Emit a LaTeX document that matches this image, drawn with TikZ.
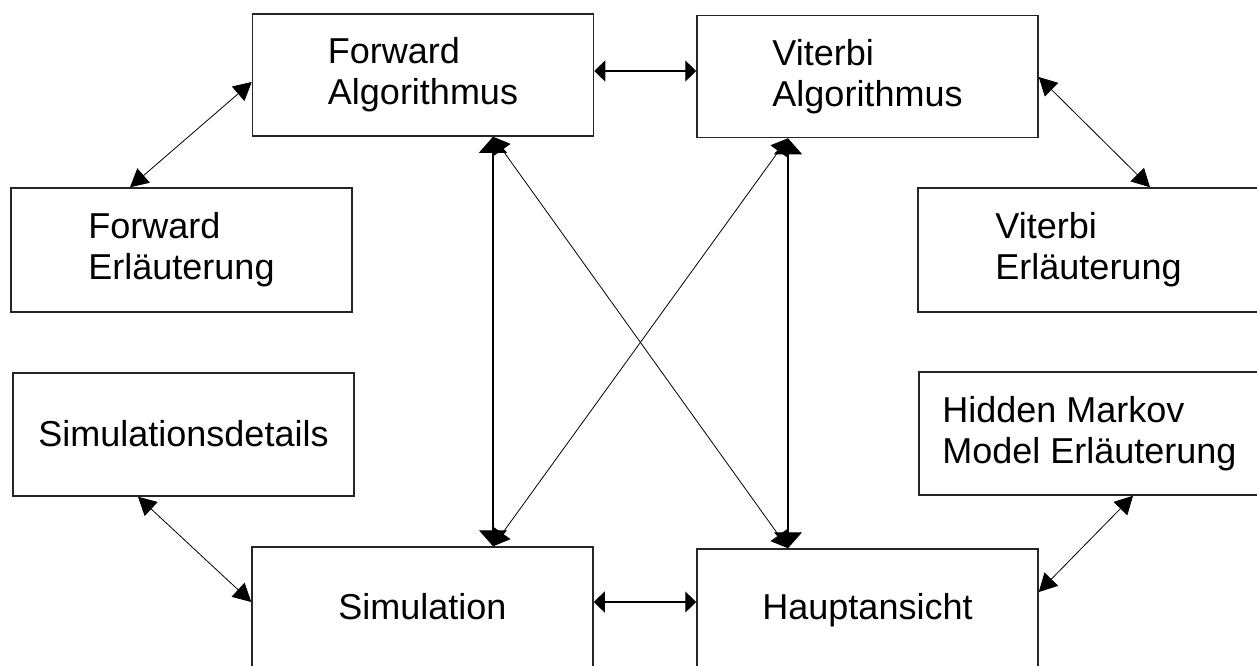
\documentclass[tikz,border=0pt]{standalone}
\usepackage{fontspec}
\setmainfont{Liberation Sans}
\usetikzlibrary{arrows.meta}
\tikzset{
  box/.style={draw=black!85, line width=1.5pt, fill=white, minimum width=341pt, minimum height=122pt,
    inner sep=0pt, align=left, font=\fontsize{36}{41}\selectfont},
  conn/.style={line width=1.1pt, {Triangle[length=16pt,width=28pt]}-{Triangle[length=16pt,width=28pt]}},
  hconn/.style={line width=1.1pt, {Triangle[length=11pt,width=21pt]}-{Triangle[length=11pt,width=21pt]}},
  diag/.style={line width=0.8pt, {Triangle[length=16pt,width=20pt]}-{Triangle[length=16pt,width=20pt]}},
  side/.style={line width=0.8pt, {Triangle[length=18pt,width=19pt]}-{Triangle[length=18pt,width=19pt]}}
}
\begin{document}
\begin{tikzpicture}[x=1pt,y=-1pt]
\useasboundingbox (0,0) rectangle (1257,665);
\begin{scope}
\clip (0,0) rectangle (1257,665);
\node[box] (FA) at (423,75) {Forward\\Algorithmus};
\node[box] (VA) at (867.5,76.5) {Viterbi\\Algorithmus};
\node[box, minimum height=124pt] (FE) at (181.5,250) {Forward\\Erläuterung};
\node[box, minimum height=124pt] (VE) at (1088.5,250) {Viterbi\\Erläuterung};
\node[box, minimum height=123pt] (SD) at (183.5,434.5) {\raisebox{3pt}{Simulationsdetails}};
\node[box, minimum height=123pt] (HM) at (1089.5,433.5) {Hidden Markov\\Model Erläuterung};
\node[box] (SI) at (422.5,608) {\raisebox{3pt}{Simulation}};
\node[box] (HA) at (867.5,610) {\raisebox{-2pt}{Hauptansicht}};

\coordinate (xL) at (493,0);
\coordinate (xR) at (788,0);

\draw[hconn] (FA.east |- 0,71) -- (VA.west |- 0,71);
\draw[hconn] (SI.east |- 0,602) -- (HA.west |- 0,602);
\draw[conn] (FA.south -| xL) -- (SI.north -| xL);
\draw[conn] (VA.south -| xR) -- (HA.north -| xR);
\draw[diag] (FA.south -| xL) -- (HA.north -| xR);
\draw[diag] (VA.south -| xR) -- (SI.north -| xL);
\draw[side] (FA.west |- 0,82) -- (FE.north -| 130,0);
\draw[side] (VA.east |- 0,77) -- (VE.north -| 1150,0);
\draw[side] (SD.south -| 138,0) -- (SI.west |- 0,602);
\draw[side] (HM.south -| 1133,0) -- (HA.east |- 0,592);
\end{scope}
\end{tikzpicture}
\end{document}
